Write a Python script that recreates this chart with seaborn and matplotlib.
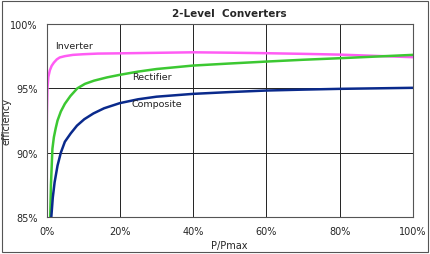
import numpy as np
import pandas as pd
import matplotlib
matplotlib.use("Agg")
import matplotlib.pyplot as plt
from matplotlib.ticker import MultipleLocator, FuncFormatter
import seaborn as sns

# values (P/Pmax in %, efficiency in %)
inverter_x = [0.0, 0.1, 0.25, 0.5, 0.9, 1.4, 2.0, 2.8, 3.6, 5.0, 7.2, 10.0, 14.0, 20.0, 30.0, 40.0, 50.0, 60.0, 70.0, 80.0, 90.0, 100.0]
inverter_y = [90.0, 93.0, 95.0, 95.9, 96.4, 96.75, 97.0, 97.25, 97.4, 97.5, 97.6, 97.65, 97.7, 97.72, 97.76, 97.8, 97.77, 97.73, 97.68, 97.62, 97.52, 97.42]

rectifier_x = [1.0, 1.2, 1.6, 2.0, 2.5, 3.0, 3.9, 5.0, 6.5, 8.4, 10.5, 13.0, 16.5, 20.0, 25.0, 30.0, 40.0, 50.0, 60.0, 70.0, 80.0, 90.0, 100.0]
rectifier_y = [85.0, 87.5, 90.3, 91.2, 91.9, 92.5, 93.2, 93.8, 94.4, 95.0, 95.35, 95.6, 95.85, 96.05, 96.3, 96.5, 96.77, 96.93, 97.08, 97.22, 97.34, 97.47, 97.6]

composite_x = [1.3, 1.7, 2.2, 3.0, 3.9, 5.0, 6.6, 8.3, 10.3, 12.8, 15.7, 20.0, 25.0, 30.0, 40.0, 50.0, 60.0, 70.0, 80.0, 90.0, 100.0]
composite_y = [85.0, 86.5, 87.7, 89.0, 90.0, 90.85, 91.5, 92.1, 92.6, 93.05, 93.45, 93.85, 94.15, 94.35, 94.57, 94.71, 94.83, 94.9, 94.96, 95.0, 95.04]

series_names = ["Inverter", "Rectifier", "Composite"]
series_colors = ["#FF5CF4", "#3CC832", "#0A2A8C"]

frames = []
for name, xs, ys in zip(series_names,
                        [inverter_x, rectifier_x, composite_x],
                        [inverter_y, rectifier_y, composite_y]):
    frames.append(pd.DataFrame({"P/Pmax": xs, "efficiency": ys, "series": name}))
df = pd.concat(frames, ignore_index=True)

sns.set_style("white")
plt.rcParams['font.family'] = ['DejaVu Sans']

fig = plt.figure(figsize=(4.31, 2.55), dpi=100)
ax = fig.add_axes([0.108, 0.145, 0.850, 0.757])

sns.lineplot(data=df, x="P/Pmax", y="efficiency", hue="series",
             palette=dict(zip(series_names, series_colors)),
             sort=False, linewidth=1.8, legend=False, ax=ax)

ax.set_xlim(0, 100)
ax.set_ylim(85, 100)
ax.xaxis.set_major_locator(MultipleLocator(20))
ax.xaxis.set_minor_locator(MultipleLocator(10))
ax.yaxis.set_major_locator(MultipleLocator(5))
ax.xaxis.set_major_formatter(FuncFormatter(lambda v, p: "%d%%" % v))
ax.yaxis.set_major_formatter(FuncFormatter(lambda v, p: "%d%%" % v))
ax.grid(True, which="major", color="#222222", linewidth=0.7)
ax.tick_params(axis="both", which="major", labelsize=7, length=3, width=0.7, direction="out", color="#444444")
ax.tick_params(axis="x", which="minor", length=3, width=0.7, direction="out", color="#444444")
ax.tick_params(axis="y", which="major", left=False)
for s in ax.spines.values():
    s.set_color("#555555")
    s.set_linewidth(0.8)

ax.set_xlabel("P/Pmax", fontsize=7, labelpad=3)
ax.set_ylabel("efficiency", fontsize=7)
ax.yaxis.set_label_coords(-0.097, 0.5)
ax.set_title("2-Level  Converters", fontsize=7.5, fontweight="bold", pad=6)

ax.text(2.3, 98.1, "Inverter", fontsize=6.8, color="#222222")
ax.text(23.3, 95.75, "Rectifier", fontsize=6.8, color="#222222")
ax.text(23.3, 93.65, "Composite", fontsize=6.8, color="#222222")

fig.patches.append(plt.Rectangle((0.005, 0.008), 0.988, 0.984, transform=fig.transFigure,
                                 fill=False, edgecolor="#555555", linewidth=0.8))

fig.savefig("out.png", dpi=100)
